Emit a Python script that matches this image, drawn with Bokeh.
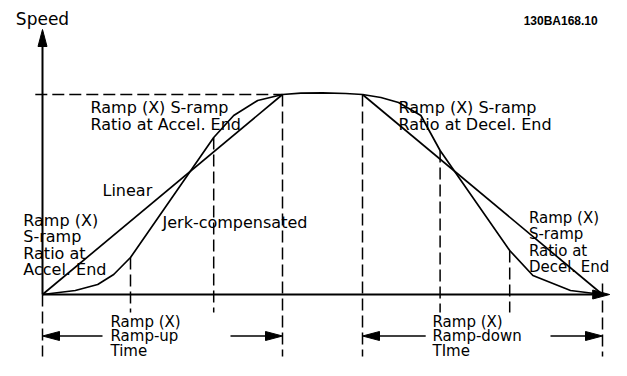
from bokeh.plotting import figure
from bokeh.models import Range1d
from bokeh.embed import file_html
from bokeh.resources import INLINE
from bokeh.core.properties import value

# ---------------- data (time in s, speed in %) ----------------
linear_up_t = [0.0, 3.0]
linear_up_speed = [0, 100]
linear_down_t = [4.0, 7.0]
linear_down_speed = [100, 0]

jerk_t = [0.0, 0.41, 0.69, 0.89, 1.1, 2.14, 2.39, 2.69, 3.0, 3.23, 3.5, 3.79, 4.0,
          4.23, 4.45, 4.73, 4.97, 5.84, 6.13, 6.6, 7.0]
jerk_speed = [0, 2, 5, 10, 18.5, 78.5, 89.5, 97, 100, 100.7, 100.8, 100.5, 100,
              98.5, 96, 89.5, 72, 22, 9.5, 2, 0]

# ends of the S-ramp sections (on the jerk curve)
s_ramp_t = [1.1, 2.14, 4.97, 5.84]
s_ramp_speed = [18.5, 78.5, 72, 22]

# ramp boundaries
ramp_t = [0.0, 3.0, 4.0, 7.0]
ramp_speed = [0, 100, 100, 5.5]
top_speed = 100

acc_top_lines = ["Ramp (X) S-ramp", "Ratio at Accel. End"]
dec_top_lines = ["Ramp (X) S-ramp", "Ratio at Decel. End"]
acc_low_lines = ["Ramp (X)", "S-ramp", "Ratio at", "Accel. End"]
dec_low_lines = ["Ramp (X)", "S-ramp", "Ratio at", "Decel. End"]
up_time_lines = ["Ramp (X)", "Ramp-up", "Time"]
down_time_lines = ["Ramp (X)", "Ramp-down", "TIme"]

# ---------------- figure ----------------
PX_X = 1 / 80.0   # data units per pixel (time)
PX_Y = 1 / 2.0    # data units per pixel (speed)
p = figure(width=611, height=360,
           x_range=Range1d(-0.525, 7.1125), y_range=Range1d(-33, 147),
           output_backend="svg", toolbar_location=None,
           x_axis_location=None, y_axis_location=None, min_border=0)
p.grid.visible = False
p.outline_line_color = None
p.background_fill_color = "white"
p.border_fill_color = "white"

BLACK = "black"
FONT = value("DejaVu Sans")


def head(tx, ty, dx, dy, length=17, half=4.5):
    bx = tx - dx * length * PX_X
    by = ty - dy * length * PX_Y
    nx, ny = -dy, dx
    xs = [tx, bx + nx * half * PX_X, bx - nx * half * PX_X]
    ys = [ty, by + ny * half * PX_Y, by - ny * half * PX_Y]
    return xs, ys, bx, by


heads_x, heads_y = [], []

# axes
x_tip = 7.09
xs, ys, bx, by = head(x_tip, 0, 1, 0)
heads_x.append(xs); heads_y.append(ys)
p.line([0, bx], [0, 0], line_color=BLACK, line_width=2)
y_tip = 132.5
xs, ys, bx, by = head(0, y_tip, 0, 1)
heads_x.append(xs); heads_y.append(ys)
p.line([0, 0], [0, by], line_color=BLACK, line_width=2)

# dashed guides
DASH = "12 5"
p.line([-0.09, ramp_t[1]], [top_speed, top_speed], line_color=BLACK,
       line_width=1.5, line_dash=DASH)
p.segment(x0=s_ramp_t, y0=s_ramp_speed, x1=s_ramp_t, y1=[-9] * len(s_ramp_t),
          line_color=BLACK, line_width=1.5, line_dash=DASH)
p.segment(x0=ramp_t, y0=ramp_speed, x1=ramp_t, y1=[-31] * len(ramp_t),
          line_color=BLACK, line_width=1.5, line_dash=DASH)

# profiles
p.line(linear_up_t, linear_up_speed, line_color=BLACK, line_width=1.7)
p.line(linear_down_t, linear_down_speed, line_color=BLACK, line_width=1.7)
p.line(jerk_t, jerk_speed, line_color=BLACK, line_width=1.7)

# time arrows
arrow_y = -20.75
for start, tip in [(0.75, ramp_t[0]), (2.35, ramp_t[1]),
                   (4.79, ramp_t[2]), (6.35, ramp_t[3])]:
    d = 1 if tip > start else -1
    xs, ys, bx, by = head(tip, arrow_y, d, 0)
    heads_x.append(xs); heads_y.append(ys)
    p.line([start, bx], [arrow_y, arrow_y], line_color=BLACK, line_width=1.7)

p.patches(heads_x, heads_y, fill_color=BLACK, line_color=BLACK, line_width=1)


def block(lines, x, y0, step, size="16px"):
    p.text(x=[x] * len(lines), y=[y0 - i * step for i in range(len(lines))],
           text=lines, text_font=FONT, text_font_size=size,
           text_align="left", text_baseline="middle", text_color=BLACK)


block(acc_top_lines, 0.6, 93.5, 8.5)
block(dec_top_lines, 4.45, 93.5, 8.5)
block(acc_low_lines, -0.24, 37, 8.2)
block(dec_low_lines, 6.08, 38.5, 8.33, size="15px")
block(up_time_lines, 0.85, -13.5, 7.25, size="15px")
block(down_time_lines, 4.875, -13.5, 7.25, size="15px")
block(["Linear"], 0.75, 52, 0)
block(["Jerk-compensated"], 1.5, 36, 0)

p.text(x=[0], y=[138], text=["Speed"], text_font=FONT, text_font_size="17px",
       text_align="center", text_baseline="middle", text_color=BLACK)
p.text(x=[6.94], y=[137], text=["130BA168.10"], text_font=value("Liberation Sans"),
       text_font_size="12px", text_font_style="bold",
       text_align="right", text_baseline="middle", text_color=BLACK)

open("out.html", "w").write(file_html(p, INLINE))
